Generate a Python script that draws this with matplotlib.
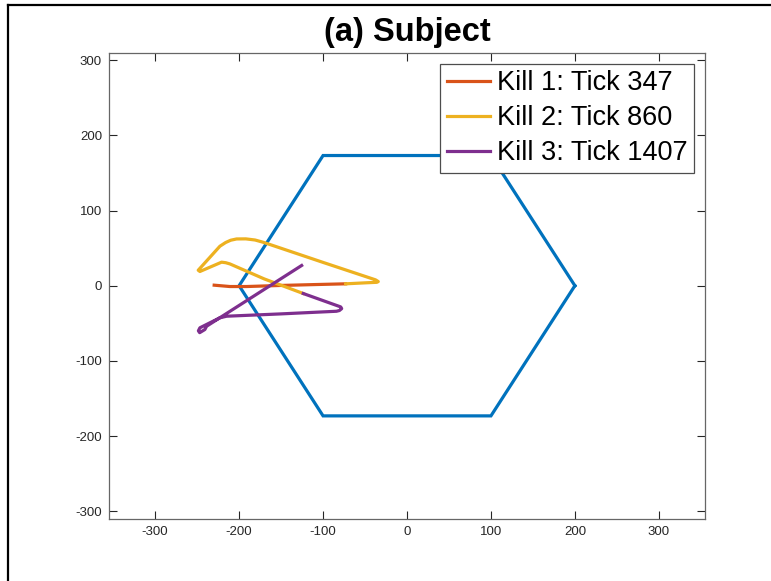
import numpy as np
import matplotlib
matplotlib.use("Agg")
import matplotlib.pyplot as plt
from matplotlib.lines import Line2D

plt.rcParams['font.family'] = ['Liberation Sans', 'DejaVu Sans']
plt.rcParams['axes.unicode_minus'] = False

# hexagon arena (radius 200)
hex_x = [200, 100, -100, -200, -100, 100, 200]
hex_y = [0, 173.2, 173.2, 0, -173.2, -173.2, 0]

# subject path, split by kill
kill1_x = [-229.7, -211.0, -191.0, -151.4, -110.0, -73.1]
kill1_y = [0.7, -1.1, -1.1, 0.3, 1.5, 2.5]

kill2_x = [-73.1, -48.0, -36.0, -34.2, -37.5, -100.0, -163.3, -172.0, -181.0, -192.0,
           -203.0, -210.0, -216.0, -222.9, -248.7, -246.7, -220.9, -216.0, -211.0,
           -170.0, -123.6]
kill2_y = [2.5, 3.9, 4.5, 5.5, 7.8, 31.0, 54.8, 58.0, 60.8, 62.3,
           62.2, 60.5, 57.5, 52.5, 20.6, 18.9, 31.3, 30.6, 29.0,
           9.0, -10.4]

kill3_x = [-123.6, -83.8, -79.0, -77.8, -80.5, -84.0, -150.0, -214.9, -222.9, -246.7,
           -248.5, -247.0, -240.8, -238.7, -180.0, -125.5]
kill3_y = [-10.4, -26.3, -28.2, -30.5, -33.0, -34.0, -37.5, -40.6, -42.7, -56.0,
           -60.0, -62.5, -58.3, -53.9, -12.0, 26.9]

labels = ["Kill 1: Tick 347", "Kill 2: Tick 860", "Kill 3: Tick 1407"]
ticks = [-300, -200, -100, 0, 100, 200, 300]

fig = plt.figure(figsize=(7.71, 5.81), dpi=100)
ax = fig.add_axes([109 / 771, 1 - 518.7 / 581, 596 / 771, 466 / 581])

ax.plot(hex_x, hex_y, color="#0072BD", lw=2.3, solid_joinstyle="miter")
l1, = ax.plot(kill1_x, kill1_y, color="#D95319", lw=2.3)
l2, = ax.plot(kill2_x, kill2_y, color="#EDB120", lw=2.3)
l3, = ax.plot(kill3_x, kill3_y, color="#7E2F8E", lw=2.3)

ax.set_xlim(-355, 355)
ax.set_ylim(-310, 310)
ax.set_xticks(ticks)
ax.set_yticks(ticks)
ax.tick_params(direction="in", length=6, width=0.8, top=True, right=True,
               labelsize=9.5, colors="0.15", pad=5)
for s in ax.spines.values():
    s.set_color("0.4")
    s.set_linewidth(0.9)

leg = ax.legend([l1, l2, l3], labels, loc="upper right", fontsize=19.5,
                handlelength=1.6, handletextpad=0.25, labelspacing=0.33,
                borderpad=0.25, borderaxespad=0.4, fancybox=False,
                framealpha=1, edgecolor="0.3")
leg.get_frame().set_linewidth(0.9)

fig.text((109 + 705) / 2 / 771, 1 - 33 / 581, "(a) Subject", ha="center", va="center",
         fontsize=23.5, fontweight="bold")

# outer frame (top and left edges visible)
fig.add_artist(Line2D([7.5 / 771, 1], [1 - 4.5 / 581, 1 - 4.5 / 581],
                      transform=fig.transFigure, color="black", lw=1.6))
fig.add_artist(Line2D([7.5 / 771, 7.5 / 771], [0, 1 - 4.5 / 581],
                      transform=fig.transFigure, color="black", lw=1.6))

fig.savefig("out.png", dpi=100)
